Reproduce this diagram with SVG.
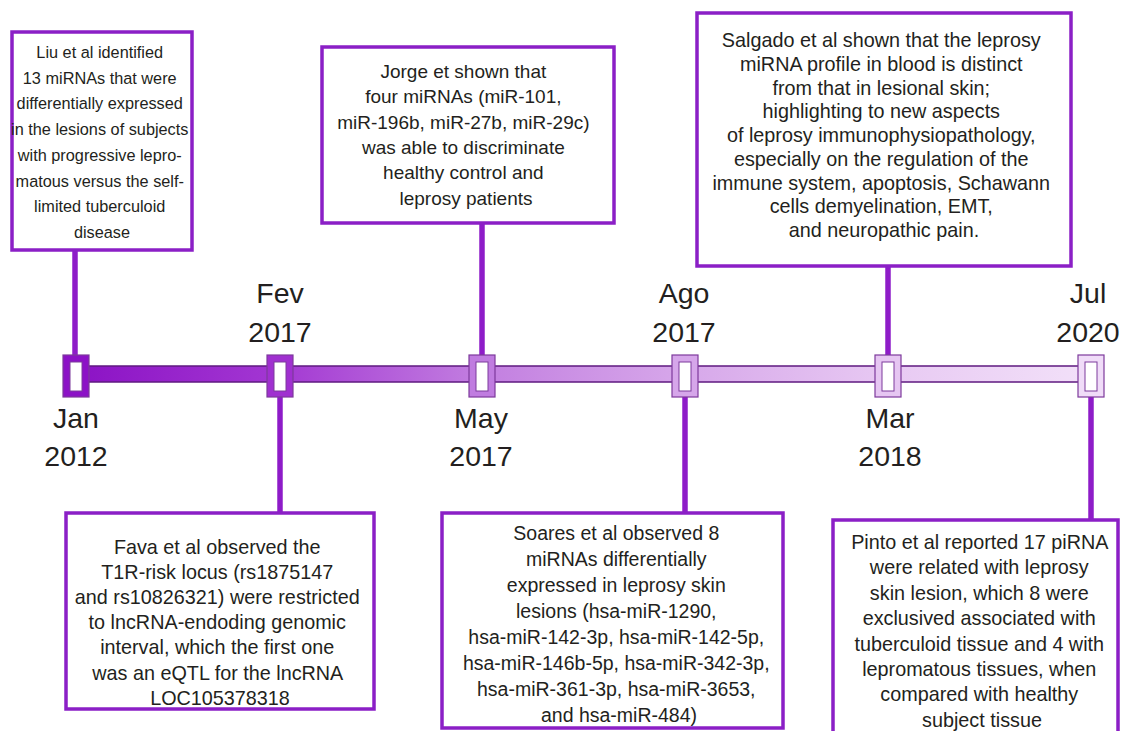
<svg xmlns="http://www.w3.org/2000/svg" width="1128" height="731" viewBox="0 0 1128 731">
<defs>
<linearGradient id="barGrad" gradientUnits="userSpaceOnUse" x1="63" y1="0" x2="1103" y2="0">
<stop offset="0" stop-color="#8a10c4"/>
<stop offset="0.2" stop-color="#a236d2"/>
<stop offset="0.4" stop-color="#c27ee0"/>
<stop offset="0.6" stop-color="#d7a8ea"/>
<stop offset="0.8" stop-color="#e8caf3"/>
<stop offset="1" stop-color="#f3e2f9"/>
</linearGradient>
<style>
.box{fill:#fff;stroke:#8b1fc6;stroke-width:3.5}
.t{font-family:"Liberation Sans",Arial,sans-serif;fill:#231f20;text-anchor:middle}
.date{font-size:28.5px}
.conn{stroke:#8e1cc8;stroke-width:5.5;fill:none}
.mk{stroke:#7d3a9c;stroke-width:1.2}
.mkin{fill:#fff;stroke:#7d3a9c;stroke-width:1}
</style>
</defs>
<rect width="1128" height="731" fill="#fff"/>

<g id="connectors">
<line class="conn" x1="75" y1="250" x2="75" y2="356"/>
<line class="conn" x1="280" y1="396" x2="280" y2="513"/>
<line class="conn" x1="482" y1="223" x2="482" y2="356"/>
<line class="conn" x1="685" y1="396" x2="685" y2="513"/>
<line class="conn" x1="888" y1="266" x2="888" y2="356"/>
<line class="conn" x1="1091" y1="396" x2="1091" y2="520"/>
</g>

<g id="timeline">
<rect x="76" y="366" width="1015" height="16" fill="url(#barGrad)" stroke="#5f1a80" stroke-width="1.5"/>
</g>

<g id="m-jan2012">
<rect class="mk" x="63" y="355" width="26" height="42" fill="#8c12c6" stroke="#8c12c6"/>
<rect class="mkin" x="70" y="362" width="12" height="29" stroke="#6a0f9a"/>
<text class="t date" x="76" y="428">Jan</text>
<text class="t date" x="76" y="466">2012</text>
</g>
<g id="m-fev2017">
<rect class="mk" x="267" y="355" width="26" height="42" fill="#a030d0"/>
<rect class="mkin" x="274" y="362" width="12" height="29"/>
<text class="t date" x="280" y="303">Fev</text>
<text class="t date" x="280" y="342">2017</text>
</g>
<g id="m-may2017">
<rect class="mk" x="469" y="355" width="26" height="42" fill="#c07ce0"/>
<rect class="mkin" x="476" y="362" width="12" height="29"/>
<text class="t date" x="481" y="428">May</text>
<text class="t date" x="481" y="466">2017</text>
</g>
<g id="m-ago2017">
<rect class="mk" x="672" y="355" width="26" height="42" fill="#d6a6ea"/>
<rect class="mkin" x="679" y="362" width="12" height="29"/>
<text class="t date" x="684" y="303">Ago</text>
<text class="t date" x="684" y="342">2017</text>
</g>
<g id="m-mar2018">
<rect class="mk" x="875" y="355" width="26" height="42" fill="#e6c6f2"/>
<rect class="mkin" x="882" y="362" width="12" height="29"/>
<text class="t date" x="890" y="428">Mar</text>
<text class="t date" x="890" y="466">2018</text>
</g>
<g id="m-jul2020">
<rect class="mk" x="1078" y="355" width="26" height="42" fill="#f0dcf8"/>
<rect class="mkin" x="1085" y="362" width="12" height="29"/>
<text class="t date" x="1088" y="303">Jul</text>
<text class="t date" x="1088" y="342">2020</text>
</g>

<g id="box-liu">
<rect class="box" x="12" y="32" width="180" height="218"/>
<text class="t" font-size="16.3">
<tspan x="102" y="58">Liu et al identified</tspan>
<tspan x="102" y="83.7">13 miRNAs that were</tspan>
<tspan x="102" y="109.4">differentially expressed</tspan>
<tspan x="102" y="135.1">in the lesions of subjects</tspan>
<tspan x="102" y="160.8">with progressive lepro-</tspan>
<tspan x="102" y="186.5">matous versus the self-</tspan>
<tspan x="102" y="212.2">limited tuberculoid</tspan>
<tspan x="102" y="237.9">disease</tspan>
</text>
</g>

<g id="box-jorge">
<rect class="box" x="322" y="47" width="292" height="176"/>
<text class="t" font-size="19">
<tspan x="466" y="78">Jorge et shown that</tspan>
<tspan x="466" y="103.3">four miRNAs (miR-101,</tspan>
<tspan x="466" y="128.6">miR-196b, miR-27b, miR-29c)</tspan>
<tspan x="466" y="153.9">was able to discriminate</tspan>
<tspan x="466" y="179.2">healthy control and</tspan>
<tspan x="466" y="204.5">leprosy patients</tspan>
</text>
</g>

<g id="box-salgado">
<rect class="box" x="697" y="13" width="374" height="253"/>
<text class="t" font-size="19.8">
<tspan x="884" y="47">Salgado et al shown that the leprosy</tspan>
<tspan x="884" y="70.75">miRNA profile in blood is distinct</tspan>
<tspan x="884" y="94.5">from that in lesional skin;</tspan>
<tspan x="884" y="118.25">highlighting to new aspects</tspan>
<tspan x="884" y="142">of leprosy immunophysiopathology,</tspan>
<tspan x="884" y="165.75">especially on the regulation of the</tspan>
<tspan x="884" y="189.5">immune system, apoptosis, Schawann</tspan>
<tspan x="884" y="213.25">cells demyelination, EMT,</tspan>
<tspan x="884" y="237">and neuropathic pain.</tspan>
</text>
</g>

<g id="box-fava">
<rect class="box" x="66" y="513" width="308" height="196"/>
<text class="t" font-size="19.8">
<tspan x="220" y="553.5">Fava et al observed the</tspan>
<tspan x="220" y="578.7">T1R-risk locus (rs1875147</tspan>
<tspan x="220" y="603.9">and rs10826321) were restricted</tspan>
<tspan x="220" y="629.1">to lncRNA-endoding genomic</tspan>
<tspan x="220" y="654.3">interval, which the first one</tspan>
<tspan x="220" y="679.5">was an eQTL for the lncRNA</tspan>
<tspan x="220" y="704.7">LOC105378318</tspan>
</text>
</g>

<g id="box-soares">
<rect class="box" x="442" y="513" width="341" height="215"/>
<text class="t" font-size="19.5">
<tspan x="619" y="540">Soares et al observed 8</tspan>
<tspan x="619" y="566">miRNAs differentially</tspan>
<tspan x="619" y="592">expressed in leprosy skin</tspan>
<tspan x="619" y="618">lesions (hsa-miR-1290,</tspan>
<tspan x="619" y="644">hsa-miR-142-3p, hsa-miR-142-5p,</tspan>
<tspan x="619" y="670">hsa-miR-146b-5p, hsa-miR-342-3p,</tspan>
<tspan x="619" y="696">hsa-miR-361-3p, hsa-miR-3653,</tspan>
<tspan x="619" y="722">and hsa-miR-484)</tspan>
</text>
</g>

<g id="box-pinto">
<rect class="box" x="833" y="520" width="285" height="225"/>
<text class="t" font-size="19.8">
<tspan x="982" y="549">Pinto et al reported 17 piRNA</tspan>
<tspan x="982" y="574.4">were related with leprosy</tspan>
<tspan x="982" y="599.8">skin lesion, which 8 were</tspan>
<tspan x="982" y="625.2">exclusived associated with</tspan>
<tspan x="982" y="650.6">tuberculoid tissue and 4 with</tspan>
<tspan x="982" y="676">lepromatous tissues, when</tspan>
<tspan x="982" y="701.4">compared with healthy</tspan>
<tspan x="982" y="726.8">subject tissue</tspan>
</text>
</g>
</svg>
